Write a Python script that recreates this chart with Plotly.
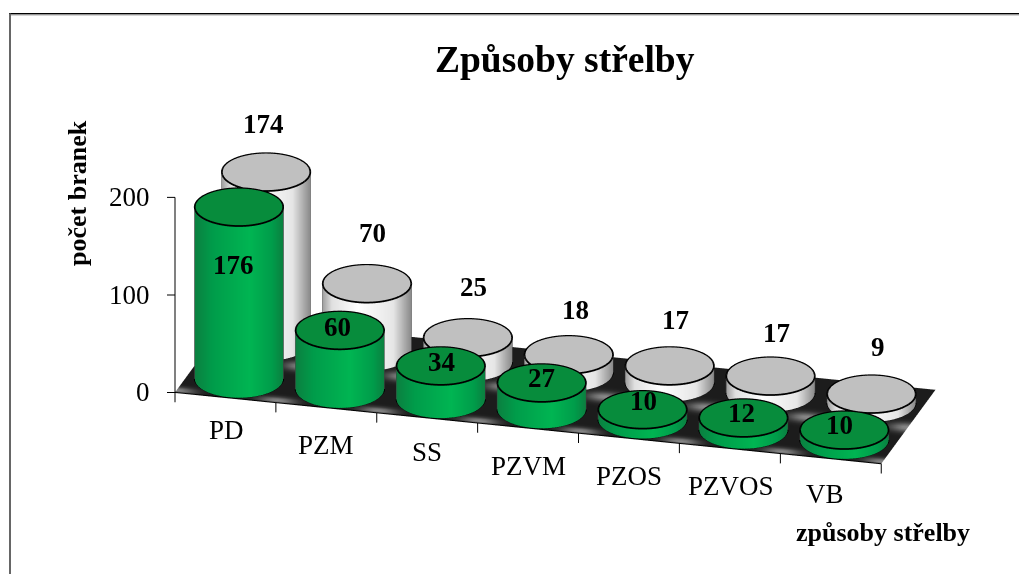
import numpy as np
import plotly.graph_objects as go

categories = ["PD", "PZM", "SS", "PZVM", "PZOS", "PZVOS", "VB"]
front_values = [176, 60, 34, 27, 10, 12, 10]
back_values = [174, 70, 25, 18, 17, 17, 9]
z_ticks = [0, 100, 200]

# hand offsets (pixels) of the value labels, as placed in the reference
back_dx = [-3, 5, 6, 7, 6, 6, 7]
back_dy = [48, 51, 51, 45, 46, 43, 47]
front_dx = [-6, -2, 1, 0, 1, -2, -5]
front_dy = [-58, 4, 4, 5, 9, 5, 5]
cat_dx = [1, 0, 0, 0, 0, 1, -6]
cat_dy = [-33, -37, -34, -38, -38, -38, -35]

PHI = np.radians(13.3)
ELEV = np.radians(25.3)
EYE_R = 2.0
ASPECT_SCALE = 1.775 / 500
SKEW = 0.0625
X_UNIT, Y_UNIT, Z_UNIT = 104.3, 91.0, 1.085
R = 44.5
BLK = "#000000"
FONT = "Liberation Serif"
LIGHT = dict(ambient=1, diffuse=0, specular=0, roughness=1, fresnel=0)
FIG_W, FIG_H, PAGE_OFF = 1019, 566, 8

GREEN_SIDE = [[0, "#0b8040"], [0.2, "#009c4a"], [0.62, "#00b552"], [0.88, "#009c4a"], [1, "#0b8040"]]
WHITE_SIDE = [[0, "#a0a0a0"], [0.1, "#e0e0e0"], [0.4, "#ffffff"], [0.8, "#e6e6e6"], [1, "#8a8a8a"]]
traces = []


def line3d(x, y, z, width=3.5, color=BLK):
    traces.append(go.Scatter3d(x=x, y=y, z=z, mode="lines", line=dict(color=color, width=width),
                               hoverinfo="skip", showlegend=False))


def cylinder(cat, row, value, side_scale, top_color):
    cx, cy = cat + 0.5 + SKEW * (row + 0.5), row + 0.5
    h = value
    th = np.linspace(0, 2 * np.pi, 121)
    zs = np.array([0.0, h])
    T, Z = np.meshgrid(th, zs)
    X = cx + R * np.cos(T) / X_UNIT
    Y = cy + R * np.sin(T) / Y_UNIT
    traces.append(go.Surface(x=X, y=Y, z=Z, surfacecolor=np.cos(T - PHI), cmin=-1, cmax=1,
                             colorscale=side_scale, showscale=False, lighting=LIGHT, hoverinfo="skip"))
    rr = np.array([0.0, 1.0])
    Rr, T2 = np.meshgrid(rr, th)
    X2 = cx + R * Rr * np.cos(T2) / X_UNIT
    Y2 = cy + R * Rr * np.sin(T2) / Y_UNIT
    traces.append(go.Surface(x=X2, y=Y2, z=np.full(X2.shape, float(h)), surfacecolor=np.zeros(X2.shape),
                             cmin=0, cmax=1, colorscale=[[0, top_color], [1, top_color]], showscale=False,
                             lighting=LIGHT, hoverinfo="skip"))
    line3d(cx + R * np.cos(th) / X_UNIT, cy + R * np.sin(th) / Y_UNIT, np.full(th.shape, h + 0.3))
    fr = np.linspace(PHI + np.pi, PHI + 2 * np.pi, 61)
    line3d(cx + R * np.cos(fr) / X_UNIT, cy + R * np.sin(fr) / Y_UNIT, np.full(fr.shape, 0.2))
    for a in (PHI, PHI + np.pi):
        px, py = cx + R * np.cos(a) / X_UNIT, cy + R * np.sin(a) / Y_UNIT
        line3d([px, px], [py, py], [0, h], width=2, color="#404040")


# floor
fx = np.linspace(0, 7, 141)
fy = np.linspace(0, 2, 41)
FX, FY = np.meshgrid(fx, fy)
glow = np.exp(-((FY - 0.98) / 0.12) ** 2) * (0.5 + 0.5 * np.cos(2 * np.pi * FX)) ** 3
glow2 = np.exp(-((FY - 0.06) / 0.08) ** 2) * (0.5 + 0.5 * np.cos(2 * np.pi * FX)) ** 3
traces.append(go.Surface(x=FX + SKEW * FY, y=FY, z=np.zeros(FX.shape), surfacecolor=np.clip(glow + glow2, 0, 1),
                         cmin=0, cmax=1, colorscale=[[0, "#1c1c1c"], [1, "#8c8c8c"]], showscale=False,
                         lighting=LIGHT, hoverinfo="skip"))

for i, v in enumerate(back_values):
    cylinder(i, 1, v, WHITE_SIDE, "#c0c0c0")
for i, v in enumerate(front_values):
    cylinder(i, 0, v, GREEN_SIDE, "#078c3c")

# axis lines and ticks
line3d([0, 0], [0, 0], [0, z_ticks[-1]], width=2)
for t in z_ticks:
    line3d([0, -8 * np.cos(PHI) / X_UNIT], [0, -8 * np.sin(PHI) / Y_UNIT], [t, t], width=2)
for i in range(len(categories) + 1):
    line3d([i, i], [0, 0], [0, -10], width=2)
line3d([0, 7], [0, 0], [0, 0], width=2)

ann = []
def label(x, y, z, text, size, bold=False, xshift=0, yshift=0, anchor="center"):
    ann.append(dict(x=x, y=y, z=z, text=f"<b>{text}</b>" if bold else text, showarrow=False,
                    xanchor=anchor, yanchor="middle", xshift=xshift, yshift=yshift,
                    font=dict(family=FONT, size=size, color="black")))

for i, v in enumerate(back_values):
    label(i + 0.5 + 1.5 * SKEW, 1.5, v, str(v), 27, True, xshift=back_dx[i], yshift=back_dy[i])
for i, v in enumerate(front_values):
    label(i + 0.5 + 0.5 * SKEW, 0.5, v, str(v), 27, True, xshift=front_dx[i], yshift=front_dy[i])
for i, c in enumerate(categories):
    label(i + 0.5, 0, 0, c, 27, xshift=cat_dx[i], yshift=cat_dy[i])
for t in z_ticks:
    label(0, 0, t, str(t), 27, xshift=-23, yshift=0, anchor="right")

fig = go.Figure(traces)


def page_x(x):
    return (x - PAGE_OFF) / FIG_W


def page_y(y):
    return 1 - (y - PAGE_OFF) / FIG_H


def text_note(text, x, y, size, angle=0):
    return dict(text=f"<b>{text}</b>", x=page_x(x), y=page_y(y), xref="paper", yref="paper", showarrow=False,
                xanchor="center", yanchor="middle", textangle=angle,
                font=dict(family=FONT, size=size, color="black"))


fig.update_layout(
    width=FIG_W, height=FIG_H, margin=dict(l=0, r=0, t=0, b=0), paper_bgcolor="white",
    showlegend=False,
    scene=dict(
        domain=dict(x=[0.0815, 1.0], y=[0.0, 0.99]),
        xaxis=dict(visible=False, range=[-0.2, 7.4]),
        yaxis=dict(visible=False, range=[-0.1, 2.1]),
        zaxis=dict(visible=False, range=[-15, 215]),
        aspectmode="manual",
        aspectratio=dict(x=7.6 * X_UNIT * ASPECT_SCALE, y=2.2 * Y_UNIT * ASPECT_SCALE, z=230 * Z_UNIT * ASPECT_SCALE),
        bgcolor="rgba(0,0,0,0)",
        camera=dict(
            projection=dict(type="orthographic"),
            up=dict(x=0, y=0, z=1),
            center=dict(x=0, y=0, z=0),
            eye=dict(x=EYE_R * np.sin(PHI) * np.cos(ELEV), y=-EYE_R * np.cos(PHI) * np.cos(ELEV), z=EYE_R * np.sin(ELEV)),
        ),
        annotations=ann,
    ),
    annotations=[
        text_note("Způsoby střelby", 565, 60, 37.5),
        text_note("počet branek", 77, 193, 26, -90),
        text_note("způsoby střelby", 883, 532, 26),
    ],
    shapes=[
        dict(type="line", xref="paper", yref="paper", x0=page_x(9), x1=1, y0=page_y(13.8), y1=page_y(13.8),
             line=dict(color="black", width=1.5)),
        dict(type="line", xref="paper", yref="paper", x0=page_x(9), x1=1, y0=page_y(15), y1=page_y(15),
             line=dict(color="#aaaaaa", width=1)),
        dict(type="line", xref="paper", yref="paper", x0=page_x(10), x1=page_x(10), y0=0, y1=page_y(13.5),
             line=dict(color="#666666", width=2)),
    ],
)
fig.write_html("out.html")
